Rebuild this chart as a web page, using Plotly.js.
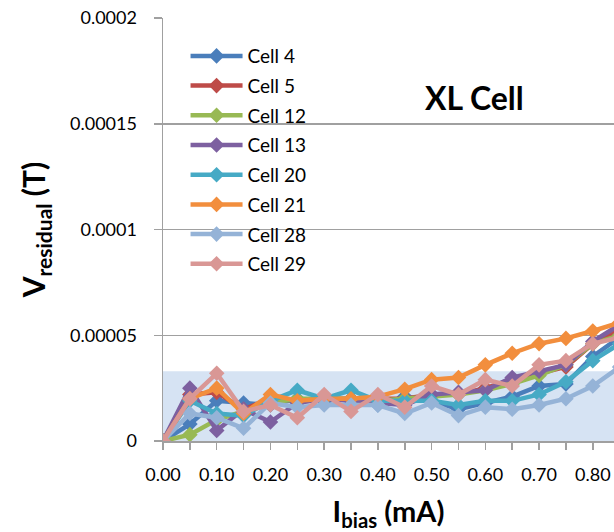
<!DOCTYPE html>
<html>
<head>
<meta charset="utf-8">
<script src="https://cdn.plot.ly/plotly-3.0.1.min.js"></script>
<style>html,body{margin:0;padding:0;overflow:hidden;background:#fff}#chart{width:614px;height:532px}</style>
</head>
<body>
<div id="chart"></div>
<script>
// Bias current (mA)
var ibias = [0, 0.05, 0.10, 0.15, 0.20, 0.25, 0.30, 0.35, 0.40, 0.45, 0.50, 0.55, 0.60, 0.65, 0.70, 0.75, 0.80, 0.85];

// Residual values (T) per cell
var cell4  = [0, 0.8e-5, 1.9e-5, 1.8e-5, 1.7e-5, 2.0e-5, 1.9e-5, 2.0e-5, 1.7e-5, 2.1e-5, 1.9e-5, 1.5e-5, 1.8e-5, 2.1e-5, 2.6e-5, 2.7e-5, 4.0e-5, 4.9e-5];
var cell5  = [0, 2.2e-5, 2.3e-5, 1.5e-5, 2.0e-5, 1.9e-5, 2.0e-5, 2.0e-5, 2.0e-5, 2.0e-5, 2.2e-5, 2.2e-5, 2.5e-5, 2.9e-5, 3.2e-5, 3.5e-5, 4.6e-5, 5.3e-5];
var cell12 = [0, 0.3e-5, 1.0e-5, 1.4e-5, 1.8e-5, 2.0e-5, 2.0e-5, 2.0e-5, 1.9e-5, 2.0e-5, 2.1e-5, 2.2e-5, 2.4e-5, 2.7e-5, 3.1e-5, 3.6e-5, 4.6e-5, 5.0e-5];
var cell13 = [0, 2.5e-5, 0.5e-5, 1.5e-5, 0.9e-5, 1.8e-5, 2.0e-5, 1.9e-5, 1.8e-5, 1.7e-5, 2.2e-5, 2.3e-5, 2.4e-5, 3.0e-5, 3.3e-5, 3.6e-5, 4.7e-5, 5.5e-5];
var cell20 = [0, 1.9e-5, 1.3e-5, 1.2e-5, 1.9e-5, 2.4e-5, 2.0e-5, 2.4e-5, 1.9e-5, 1.9e-5, 1.9e-5, 1.7e-5, 1.9e-5, 1.9e-5, 2.2e-5, 2.8e-5, 3.8e-5, 4.6e-5];
var cell21 = [0, 2.0e-5, 2.5e-5, 1.3e-5, 2.2e-5, 1.9e-5, 2.0e-5, 2.0e-5, 2.1e-5, 2.45e-5, 2.9e-5, 3.0e-5, 3.6e-5, 4.15e-5, 4.6e-5, 4.85e-5, 5.2e-5, 5.6e-5];
var cell28 = [0, 1.3e-5, 1.1e-5, 0.6e-5, 1.8e-5, 1.6e-5, 1.7e-5, 1.7e-5, 1.7e-5, 1.3e-5, 1.8e-5, 1.2e-5, 1.6e-5, 1.5e-5, 1.7e-5, 2.0e-5, 2.6e-5, 3.5e-5];
var cell29 = [0, 2.0e-5, 3.2e-5, 1.4e-5, 1.7e-5, 1.1e-5, 2.2e-5, 1.4e-5, 2.2e-5, 1.6e-5, 2.6e-5, 2.2e-5, 2.9e-5, 2.6e-5, 3.6e-5, 3.8e-5, 4.6e-5, 4.9e-5];

var seriesNames = ["Cell 4", "Cell 5", "Cell 12", "Cell 13", "Cell 20", "Cell 21", "Cell 28", "Cell 29"];
var seriesValues = [cell4, cell5, cell12, cell13, cell20, cell21, cell28, cell29];
var seriesColors = ["#4A7EBB", "#BE4B48", "#98B954", "#7D60A0", "#46AAC5", "#F28E3D", "#95B3D7", "#D99795"];

// Axis tick labels
var yTickVals = [0, 0.00005, 0.0001, 0.00015, 0.0002];
var yTickText = ["0", "0.00005", "0.0001", "0.00015", "0.0002"];
var xTickVals = [0, 0.1, 0.2, 0.3, 0.4, 0.5, 0.6, 0.7, 0.8];
var xTickText = ["0.00", "0.10", "0.20", "0.30", "0.40", "0.50", "0.60", "0.70", "0.80"];

// Shaded band upper limit (T)
var bandTop = 3.3e-5;

var traces = seriesNames.map(function (name, i) {
  return {
    type: "scatter",
    mode: "lines+markers",
    name: name,
    legendgroup: name,
    x: ibias,
    y: seriesValues[i],
    line: { color: seriesColors[i], width: 4.5 },
    marker: { symbol: "diamond", size: 12, color: seriesColors[i] },
    cliponaxis: true
  };
});

var gridColor = "#A0A0A0";
var layout = {
  width: 614,
  height: 532,
  margin: { l: 163, r: 0, t: 18, b: 91, pad: 0 },
  paper_bgcolor: "#ffffff",
  plot_bgcolor: "#ffffff",
  font: { family: "Lato, 'Open Sans', sans-serif", color: "#000" },
  showlegend: true,
  legend: {
    x: 0.05, y: 0.955, xanchor: "left", yanchor: "top",
    bgcolor: "rgba(0,0,0,0)",
    font: { size: 19, color: "#000" },
    traceorder: "grouped",
    tracegroupgap: 2,
    itemwidth: 52
  },
  xaxis: {
    range: [0, 0.8395],
    tickvals: xTickVals,
    ticktext: xTickText,
    ticks: "outside",
    ticklen: 7,
    tickwidth: 1.5,
    tickcolor: gridColor,
    minor: { dtick: 0.05, tick0: 0, ticks: "outside", ticklen: 7, tickwidth: 1.5, tickcolor: gridColor, showgrid: false },
    showgrid: false,
    zeroline: false,
    showline: true,
    linecolor: gridColor,
    linewidth: 1.5,
    tickfont: { size: 18, color: "#000" },
    ticklabelstandoff: 10,
    title: { text: "<b>I<sub>bias</sub> (mA)</b>", font: { size: 29, color: "#000" }, standoff: 22 }
  },
  yaxis: {
    range: [0, 0.0002],
    tickvals: yTickVals,
    ticktext: yTickText,
    ticks: "outside",
    ticklen: 8,
    tickwidth: 1.5,
    tickcolor: gridColor,
    showgrid: true,
    gridcolor: gridColor,
    gridwidth: 1.5,
    zeroline: false,
    showline: true,
    linecolor: gridColor,
    linewidth: 1.5,
    tickfont: { size: 18, color: "#000" },
    ticklabelstandoff: 13,
    title: { text: "<b>V<sub>residual</sub> (T)</b>", font: { size: 30, color: "#000" }, standoff: 15 }
  },
  shapes: [{
    type: "rect", layer: "below",
    xref: "paper", yref: "y",
    x0: 0, x1: 1, y0: 0, y1: bandTop,
    fillcolor: "#D6E3F3", line: { width: 0 }
  }],
  annotations: [{
    text: "<b>XL Cell</b>",
    xref: "paper", yref: "paper",
    x: 0.69, y: 0.813, xanchor: "center", yanchor: "middle",
    showarrow: false,
    font: { size: 32, color: "#000" }
  }]
};

Plotly.newPlot("chart", traces, layout, { displayModeBar: false, staticPlot: true });
</script>
</body>
</html>
